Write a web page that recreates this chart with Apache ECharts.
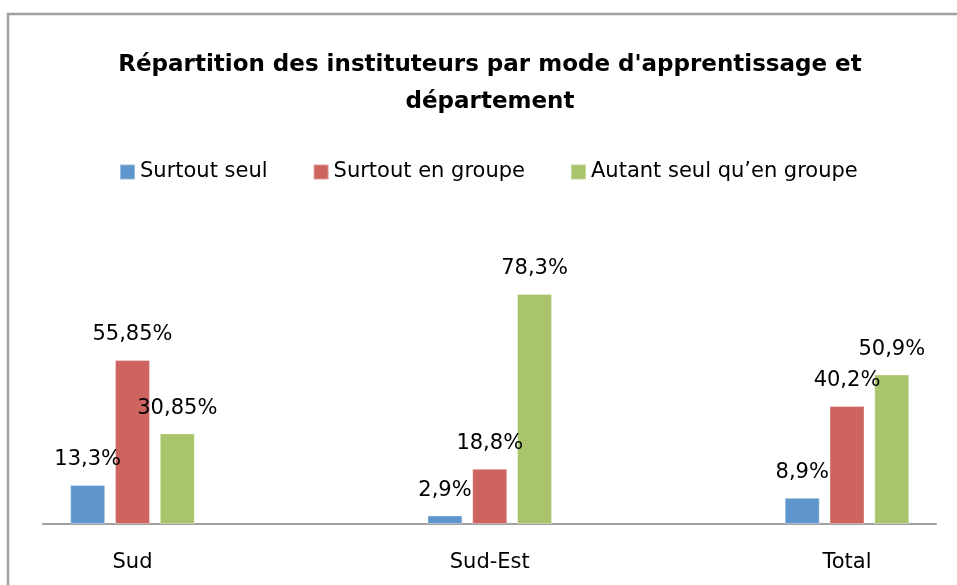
<!DOCTYPE html>
<html>
<head>
<meta charset="utf-8">
<script src="https://cdn.jsdelivr.net/npm/echarts@6/dist/echarts.min.js"></script>
<style>
  html, body { margin: 0; padding: 0; background: #ffffff; }
  #chart { width: 957px; height: 585px; }
</style>
</head>
<body>
<div id="chart"></div>
<script>
const categories = ['Sud', 'Sud-Est', 'Total'];
const seriesNames = ['Surtout seul', 'Surtout en groupe', 'Autant seul qu\u2019en groupe'];
const surtoutSeul = [13.3, 2.9, 8.9];
const surtoutGroupe = [55.85, 18.8, 40.2];
const autantSeulQuEnGroupe = [30.85, 78.3, 50.9];
const titleText = 'Répartition des instituteurs par mode d\'apprentissage et\ndépartement';

const colors = ['#5e95cd', '#cd645f', '#a9c46a'];
const FONT = 'DejaVu Sans';

function fmt(p) {
  return String(p.value).replace('.', ',') + '%';
}

function barSeries(name, data, color) {
  return {
    name: name,
    type: 'bar',
    xAxisIndex: 0,
    yAxisIndex: 0,
    data: data,
    barWidth: 35,
    barGap: '28%',
    itemStyle: { color: color, borderColor: 'rgba(255,255,255,0.35)', borderWidth: 1 },
    label: {
      show: true,
      position: 'top',
      distance: 13,
      formatter: fmt,
      color: '#000',
      fontFamily: FONT,
      fontSize: 21,
      lineHeight: 24
    },
    emphasis: { disabled: true },
    animation: false
  };
}

const chart = echarts.init(document.getElementById('chart'), null, { renderer: 'canvas' });
chart.setOption({
  animation: false,
  backgroundColor: 'transparent',
  color: colors,
  title: {
    text: titleText,
    left: 490,
    top: 47,
    textAlign: 'center',
    padding: 0,
    textStyle: {
      fontFamily: FONT,
      fontWeight: 'bold',
      fontSize: 23,
      lineHeight: 37,
      color: '#000'
    }
  },
  legend: {
    data: seriesNames,
    left: 119,
    top: 160,
    padding: 0,
    itemWidth: 15,
    itemHeight: 15,
    itemGap: 45,
    icon: 'rect',
    selectedMode: false,
    textStyle: { fontFamily: FONT, fontSize: 21, lineHeight: 24, color: '#000' }
  },
  graphic: [{
    type: 'rect',
    silent: true,
    z: -10,
    shape: { x: 8, y: 14, width: 1200, height: 1200 },
    style: { fill: null, stroke: '#a0a0a0', lineWidth: 2.5 }
  }],
  grid: [
    { left: 132.5, right: 110, top: 289, bottom: 61 },
    { left: 43, right: 21, top: 289, bottom: 61 }
  ],
  xAxis: [
    {
      type: 'category',
      gridIndex: 0,
      data: categories,
      boundaryGap: false,
      axisLine: { show: false },
      axisTick: { show: false },
      splitLine: { show: false },
      axisLabel: { fontFamily: FONT, fontSize: 21, lineHeight: 24, color: '#000', margin: 27 }
    },
    {
      type: 'value',
      gridIndex: 1,
      min: 0,
      max: 1,
      axisLine: { show: true, lineStyle: { color: '#a0a0a0', width: 2 } },
      axisTick: { show: false },
      axisLabel: { show: false },
      splitLine: { show: false }
    }
  ],
  yAxis: [
    { type: 'value', gridIndex: 0, min: 0, max: 80, show: false, splitLine: { show: false } },
    { type: 'value', gridIndex: 1, min: 0, max: 1, show: false, splitLine: { show: false } }
  ],
  series: [
    barSeries(seriesNames[0], surtoutSeul, colors[0]),
    barSeries(seriesNames[1], surtoutGroupe, colors[1]),
    barSeries(seriesNames[2], autantSeulQuEnGroupe, colors[2])
  ]
});
</script>
</body>
</html>
